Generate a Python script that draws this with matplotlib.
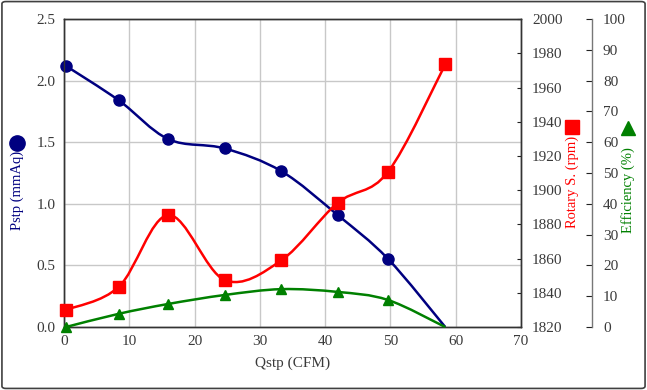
import numpy as np
import matplotlib
matplotlib.use('Agg')
import matplotlib.pyplot as plt
from matplotlib.path import Path
from matplotlib.patches import PathPatch, FancyBboxPatch
from matplotlib.lines import Line2D

# data
qstp = [0.3, 8.4, 16.0, 24.6, 33.3, 41.9, 49.6, 58.4]
pstp = [2.12, 1.84, 1.525, 1.45, 1.265, 0.91, 0.555, 0.0]
rotary = [1830, 1843.5, 1885.5, 1847.5, 1859, 1892.5, 1910.5, 1973.5]
efficiency = [0.0, 4.3, 7.5, 10.4, 12.3, 11.4, 8.8, 0.0]

x_ticks = [0, 10, 20, 30, 40, 50, 60, 70]
p_ticks = [0.0, 0.5, 1.0, 1.5, 2.0, 2.5]
r_ticks = list(range(1820, 2001, 20))
e_ticks = list(range(0, 101, 10))

NAVY, RED, GREEN = '#000080', '#ff0000', '#008000'
TXT = '#3a3a3a'
plt.rcParams['font.family'] = ['Liberation Serif', 'DejaVu Serif']


def smooth_line(ax, xs, ys, color, lw=1.8):
    # Excel-style smoothed line: Catmull-Rom bezier computed in screen space
    pts = ax.transData.transform(np.column_stack([xs, ys]))
    n = len(pts)
    verts = [pts[0]]
    codes = [Path.MOVETO]
    for i in range(n - 1):
        p0 = pts[i - 1] if i > 0 else pts[i]
        p1, p2 = pts[i], pts[i + 1]
        p3 = pts[i + 2] if i + 2 < n else pts[i + 1]
        c1 = p1 + (p2 - p0) / 6.0
        c2 = p2 - (p3 - p1) / 6.0
        verts += [c1, c2, p2]
        codes += [Path.CURVE4] * 3
    verts = ax.transData.inverted().transform(np.array(verts))
    ax.add_patch(PathPatch(Path(verts, codes), facecolor='none',
                           edgecolor=color, lw=lw, clip_on=False))


fig = plt.figure(figsize=(6.47, 3.90), dpi=100)
fig.patch.set_facecolor('white')
fig.patches.append(FancyBboxPatch((0.003, 0.004), 0.994, 0.992,
                                  boxstyle='round,pad=0,rounding_size=0.006',
                                  transform=fig.transFigure, facecolor='none',
                                  edgecolor='#404040', lw=1.2))

ax = fig.add_axes([0.0989, 0.1615, 0.7063, 0.7895])
ax2 = ax.twinx()
ax3 = ax.twinx()

ax.set_xlim(0, 70)
ax.set_ylim(0, 2.5)
ax2.set_ylim(1820, 2000)
ax3.set_ylim(0, 100)

ax.set_xticks(x_ticks)
ax.set_yticks(p_ticks)
ax.set_yticklabels([f'{v:.1f}' for v in p_ticks])
ax2.set_yticks(r_ticks)
ax3.set_yticks(e_ticks)

ax.grid(True, color='#c8c8c8', lw=1.0)
ax.set_axisbelow(True)
ax.tick_params(axis='both', length=0, labelsize=11, colors=TXT, pad=6)
ax2.tick_params(axis='y', direction='in', length=3, labelsize=11, colors=TXT, pad=8)
ax3.tick_params(axis='y', direction='in', length=4, labelsize=11, colors=TXT,
                pad=8)
ax3.tick_params(axis='y', color='#222222')
ax2.tick_params(axis='y', color='#222222')

for a in (ax, ax2, ax3):
    for s in a.spines.values():
        s.set_color('#333333')
        s.set_linewidth(1.0)
ax3.spines['right'].set_position(('axes', 1.155))
ax3.spines['right'].set_color('#777777')
for s in ('left', 'top', 'bottom'):
    ax3.spines[s].set_visible(False)

ax.set_xlabel('Qstp (CFM)', fontsize=11, color=TXT, labelpad=6)

# curves
smooth_line(ax, qstp, pstp, NAVY)
ax.plot(qstp[:-1], pstp[:-1], 'o', color=NAVY, ms=8, clip_on=False, zorder=5)
smooth_line(ax2, qstp, rotary, RED)
ax2.plot(qstp, rotary, 's', color=RED, ms=8, clip_on=False, zorder=5)
smooth_line(ax3, qstp, efficiency, GREEN)
ax3.plot(qstp[:-1], efficiency[:-1], '^', color=GREEN, ms=7, clip_on=False,
         zorder=5)

# axis titles with marker glyphs
fig.text(17 / 647, 1 - 190 / 390, 'Pstp (mmAq)', rotation=90, color=NAVY,
         fontsize=10.5, ha='center', va='center')
fig.text(572 / 647, 1 - 182 / 390, 'Rotary S. (rpm)', rotation=90, color=RED,
         fontsize=10.5, ha='center', va='center')
fig.text(628 / 647, 1 - 190 / 390, 'Efficiency (%)', rotation=90, color=GREEN,
         fontsize=10.5, ha='center', va='center')
fig.lines.append(Line2D([17 / 647], [1 - 143 / 390], marker='o', color=NAVY,
                        ms=11, transform=fig.transFigure))
fig.lines.append(Line2D([572 / 647], [1 - 127 / 390], marker='s', color=RED,
                        ms=10, transform=fig.transFigure))
fig.lines.append(Line2D([628 / 647], [1 - 128 / 390], marker='^', color=GREEN,
                        ms=10, transform=fig.transFigure))

fig.savefig('out.png', dpi=100, facecolor='white')
